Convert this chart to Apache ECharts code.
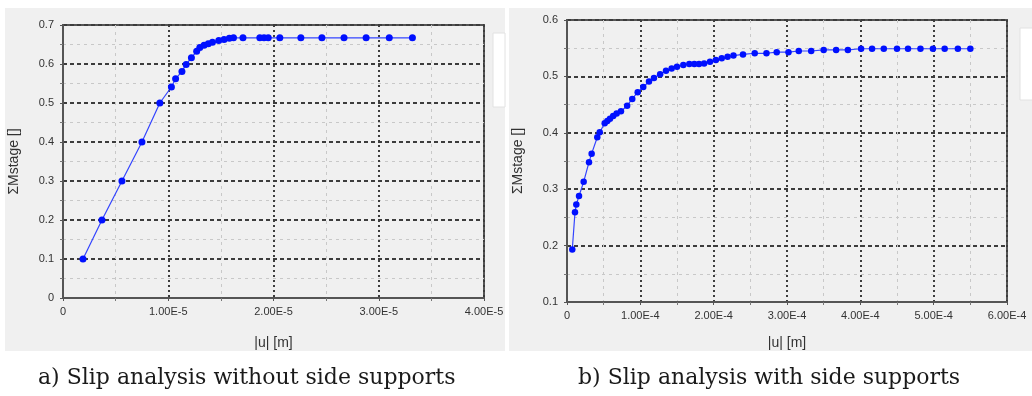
<!DOCTYPE html>
<html>
<head>
<meta charset="utf-8">
<script src="https://cdn.jsdelivr.net/npm/echarts@6/dist/echarts.min.js"></script>
<style>
  html, body { margin: 0; padding: 0; background: #ffffff; }
  #chart { width: 1032px; height: 396px; }
</style>
</head>
<body>
<div id="chart"></div>
<script>
// a) without side supports: displacement |u| [m] vs. ΣMstage
const uA = [1.9e-6, 3.7e-6, 5.6e-6, 7.5e-6, 9.2e-6, 1.03e-5, 1.07e-5, 1.13e-5, 1.17e-5, 1.22e-5,
            1.27e-5, 1.30e-5, 1.34e-5, 1.38e-5, 1.42e-5, 1.48e-5, 1.53e-5, 1.58e-5, 1.62e-5, 1.71e-5,
            1.87e-5, 1.91e-5, 1.95e-5, 2.06e-5, 2.26e-5, 2.46e-5, 2.67e-5, 2.88e-5, 3.10e-5, 3.32e-5];
const mA = [0.1, 0.2, 0.3, 0.4, 0.5, 0.541, 0.562, 0.581, 0.599, 0.616,
            0.633, 0.642, 0.648, 0.652, 0.656, 0.660, 0.663, 0.666, 0.667, 0.667,
            0.667, 0.667, 0.667, 0.667, 0.667, 0.667, 0.667, 0.667, 0.667, 0.667];

// b) with side supports
const uB = [0.072e-4, 0.109e-4, 0.127e-4, 0.164e-4, 0.227e-4, 0.300e-4, 0.336e-4, 0.413e-4, 0.446e-4, 0.514e-4,
            0.550e-4, 0.586e-4, 0.630e-4, 0.677e-4, 0.736e-4, 0.820e-4, 0.890e-4, 0.964e-4, 1.040e-4, 1.118e-4,
            1.186e-4, 1.270e-4, 1.350e-4, 1.427e-4, 1.500e-4, 1.586e-4, 1.668e-4, 1.736e-4, 1.800e-4, 1.870e-4,
            1.950e-4, 2.030e-4, 2.110e-4, 2.190e-4, 2.270e-4, 2.400e-4, 2.560e-4, 2.720e-4, 2.860e-4, 3.020e-4,
            3.160e-4, 3.330e-4, 3.500e-4, 3.670e-4, 3.830e-4, 4.010e-4, 4.160e-4, 4.320e-4, 4.500e-4, 4.650e-4,
            4.820e-4, 4.990e-4, 5.150e-4, 5.330e-4, 5.500e-4];
const mB = [0.193, 0.259, 0.273, 0.288, 0.313, 0.348, 0.363, 0.392, 0.401, 0.417,
            0.421, 0.425, 0.430, 0.434, 0.438, 0.448, 0.460, 0.472, 0.481, 0.491,
            0.497, 0.504, 0.510, 0.514, 0.517, 0.520, 0.522, 0.522, 0.522, 0.523,
            0.526, 0.529, 0.532, 0.535, 0.537, 0.539, 0.541, 0.541, 0.543, 0.543,
            0.545, 0.545, 0.547, 0.547, 0.547, 0.549, 0.549, 0.549, 0.549, 0.549,
            0.549, 0.549, 0.549, 0.549, 0.549];

const captions = ['a) Slip analysis without side supports', 'b) Slip analysis with side supports'];
const xName = '|u| [m]';
const yName = 'ΣMstage []';

const pairs = (xs, ys) => xs.map((x, i) => [x, ys[i]]);

const tickFont = { fontFamily: 'Liberation Sans, Arial, sans-serif', fontSize: 11, color: '#333333' };
const nameFont = { fontFamily: 'Liberation Sans, Arial, sans-serif', fontSize: 14, color: '#333333' };

function xAxisFor(gridIndex, max, interval, nameGap) {
  return {
    type: 'value', gridIndex, min: 0, max, interval,
    name: xName, nameLocation: 'middle', nameGap, nameTextStyle: nameFont,
    axisLine: { show: true, lineStyle: { color: '#555', width: 2 } },
    axisTick: { show: true, length: 3, lineStyle: { color: '#555' } },
    minorTick: { show: true, splitNumber: 2, length: 3, lineStyle: { color: '#777' } },
    axisLabel: Object.assign({ margin: 8, formatter: v => v === 0 ? '0' : v.toExponential(2).toUpperCase() }, tickFont),
    splitLine: { show: true, lineStyle: { color: '#3c3c3c', width: 2, type: [2, 3] } },
    minorSplitLine: { show: true, lineStyle: { color: '#c8c8c8', width: 1, type: [3, 4] } }
  };
}

function yAxisFor(gridIndex, min, max, nameGap) {
  return {
    type: 'value', gridIndex, min, max, interval: 0.1,
    name: yName, nameLocation: 'middle', nameGap, nameTextStyle: nameFont,
    axisLine: { show: true, lineStyle: { color: '#555', width: 2 } },
    axisTick: { show: true, length: 3, lineStyle: { color: '#555' } },
    minorTick: { show: true, splitNumber: 2, length: 3, lineStyle: { color: '#777' } },
    axisLabel: Object.assign({ margin: 9, formatter: v => v === 0 ? '0' : v.toFixed(1) }, tickFont),
    splitLine: { show: true, lineStyle: { color: '#3c3c3c', width: 2, type: [4, 3] } },
    minorSplitLine: { show: true, lineStyle: { color: '#c8c8c8', width: 1, type: [3, 4] } }
  };
}

function curve(xAxisIndex, yAxisIndex, data, size) {
  return {
    type: 'line', xAxisIndex, yAxisIndex, data,
    symbol: 'circle', symbolSize: size, showSymbol: true,
    lineStyle: { color: '#3344ff', width: 1.2 },
    itemStyle: { color: '#0010ff' },
    animation: false
  };
}

const chart = echarts.init(document.getElementById('chart'), null, { renderer: 'canvas' });

const captionFont = '22px "DejaVu Serif", serif';

chart.setOption({
  backgroundColor: '#ffffff',
  animation: false,
  graphic: [
    // panel backgrounds
    { type: 'rect', z: -10, shape: { x: 5, y: 8, width: 500, height: 343 }, style: { fill: '#f0f0f0' } },
    { type: 'rect', z: -10, shape: { x: 509, y: 8, width: 523, height: 343 }, style: { fill: '#f0f0f0' } },
    // clipped legend boxes at the right edge of each panel
    { type: 'rect', z: -5, shape: { x: 493, y: 33, width: 12, height: 74 }, style: { fill: '#ffffff', stroke: '#e2e2e2', lineWidth: 1 } },
    { type: 'rect', z: -5, shape: { x: 1020, y: 28, width: 14, height: 72 }, style: { fill: '#ffffff', stroke: '#e2e2e2', lineWidth: 1 } },
    // captions
    { type: 'text', left: 38, top: 367, style: { text: captions[0], font: captionFont, fill: '#1a1a1a' } },
    { type: 'text', left: 578, top: 367, style: { text: captions[1], font: captionFont, fill: '#1a1a1a' } }
  ],
  grid: [
    { left: 63, top: 25, width: 421, height: 273, show: true, borderColor: '#555', borderWidth: 2, backgroundColor: 'transparent' },
    { left: 567, top: 20, width: 440, height: 282, show: true, borderColor: '#555', borderWidth: 2, backgroundColor: 'transparent' }
  ],
  xAxis: [
    xAxisFor(0, 4e-5, 1e-5, 38),
    xAxisFor(1, 6e-4, 1e-4, 34)
  ],
  yAxis: [
    yAxisFor(0, 0, 0.7, 42),
    yAxisFor(1, 0.1, 0.6, 42)
  ],
  series: [
    curve(0, 0, pairs(uA, mA), 7),
    curve(1, 1, pairs(uB, mB), 6.5)
  ]
});
</script>
</body>
</html>
